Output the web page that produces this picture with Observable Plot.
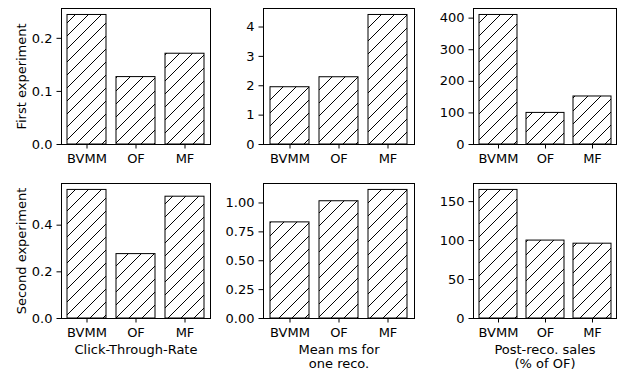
<!DOCTYPE html>
<html>
<head>
<meta charset="utf-8">
<script src="https://cdn.jsdelivr.net/npm/d3@7"></script>
<script src="https://cdn.jsdelivr.net/npm/@observablehq/plot@0.6"></script>
<style>
  html, body { margin: 0; padding: 0; background: white; }
  #chart { position: relative; width: 619px; height: 372px; overflow: hidden; font-family: "DejaVu Sans", sans-serif; }
  #chart svg.panel { position: absolute; max-width: none; overflow: visible; }
</style>
</head>
<body>
<svg width="0" height="0" style="position:absolute">
  <defs>
    <pattern id="hatch" patternUnits="userSpaceOnUse" width="13" height="13">
      <rect width="13" height="13" fill="white"></rect>
      <path d="M0,13 L13,0 M-3.25,3.25 L3.25,-3.25 M9.75,16.25 L16.25,9.75" stroke="black" stroke-width="1"></path>
    </pattern>
  </defs>
</svg>
<div id="chart"></div>
<script>
const methods = ["BVMM", "OF", "MF"];
const ctrFirst = [0.244, 0.127, 0.171];
const msFirst = [1.95, 2.29, 4.41];
const salesFirst = [410, 100, 152];
const ctrSecond = [0.551, 0.276, 0.522];
const msSecond = [0.832, 1.015, 1.113];
const salesSecond = [165, 100, 96];

const ticksCtrFirst = [0, 0.1, 0.2];
const ticksMsFirst = [0, 1, 2, 3, 4];
const ticksSalesFirst = [0, 100, 200, 300, 400];
const ticksCtrSecond = [0, 0.2, 0.4];
const ticksMsSecond = [0, 0.25, 0.5, 0.75, 1.0];
const ticksSalesSecond = [0, 50, 100, 150];

const rowLabels = ["First experiment", "Second experiment"];
const colLabels = ["Click-Through-Rate", "Mean ms for\none reco.", "Post-reco. sales\n(% of OF)"];

const chart = document.getElementById("chart");
const mL = 60, mR = 10, mT = 10, mB = 60;
const FS = 13;

function panel({values, box, ticks, fmt, ylabel, xlabel}) {
  const [x0, y0, x1, y1] = box;
  const data = methods.map((m, i) => ({method: m, value: values[i]}));
  const marks = [
    Plot.barY(data, {x: "method", y: "value", fill: "url(#hatch)", stroke: "black", strokeWidth: 1}),
    Plot.frame({stroke: "black", strokeWidth: 1}),
    Plot.axisX({tickSize: 4.5, tickPadding: 4.5, label: null, fontSize: FS}),
    Plot.axisY({ticks, tickFormat: d3.format(fmt), tickSize: 4.5, tickPadding: 4.5, label: null, fontSize: FS})
  ];
  if (ylabel) {
    marks.push(Plot.text([ylabel], {text: d => d, frameAnchor: "left", rotate: -90, dx: -40, fontSize: FS, textAnchor: "middle", lineAnchor: "middle"}));
  }
  if (xlabel) {
    marks.push(Plot.text([xlabel], {text: d => d, frameAnchor: "bottom", dy: 25, fontSize: FS, textAnchor: "middle", lineAnchor: "top", lineHeight: 1.1}));
  }
  const svg = Plot.plot({
    width: (x1 - x0) + mL + mR,
    height: (y1 - y0) + mT + mB,
    marginLeft: mL, marginRight: mR, marginTop: mT, marginBottom: mB,
    style: {background: "transparent", fontSize: FS + "px", fontFamily: "DejaVu Sans", color: "black", overflow: "visible"},
    x: {type: "band", domain: methods, paddingInner: 0.2, paddingOuter: 0.12, label: null},
    y: {domain: [0, d3.max(values) * 1.05], label: null},
    marks
  });
  svg.classList.add("panel");
  svg.style.left = (x0 - mL) + "px";
  svg.style.top = (y0 - mT) + "px";
  chart.appendChild(svg);
}

const topRow = [7.5, 143.5];
const botRow = [183, 318];
const cols = [[61, 210], [263, 414], [473, 616]];

panel({values: ctrFirst, box: [cols[0][0], topRow[0], cols[0][1], topRow[1]], ticks: ticksCtrFirst, fmt: ".1f", ylabel: rowLabels[0]});
panel({values: msFirst, box: [cols[1][0], topRow[0], cols[1][1], topRow[1]], ticks: ticksMsFirst, fmt: "d"});
panel({values: salesFirst, box: [cols[2][0], topRow[0], cols[2][1], topRow[1]], ticks: ticksSalesFirst, fmt: "d"});
panel({values: ctrSecond, box: [cols[0][0], botRow[0], cols[0][1], botRow[1]], ticks: ticksCtrSecond, fmt: ".1f", ylabel: rowLabels[1], xlabel: colLabels[0]});
panel({values: msSecond, box: [cols[1][0], botRow[0], cols[1][1], botRow[1]], ticks: ticksMsSecond, fmt: ".2f", xlabel: colLabels[1]});
panel({values: salesSecond, box: [cols[2][0], botRow[0], cols[2][1], botRow[1]], ticks: ticksSalesSecond, fmt: "d", xlabel: colLabels[2]});
</script>
</body>
</html>
